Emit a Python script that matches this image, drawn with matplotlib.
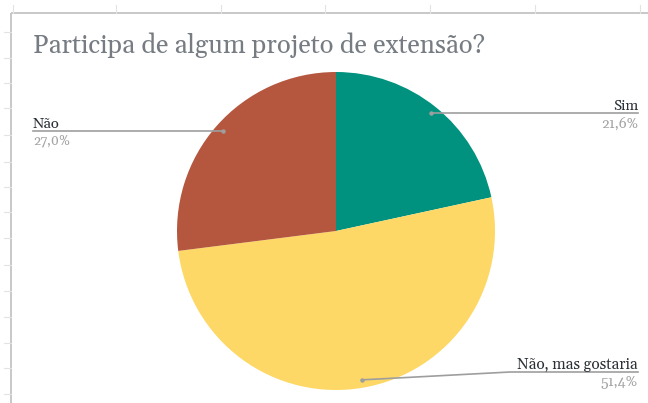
import numpy as np
from matplotlib import pyplot as plt
from matplotlib import font_manager as fm

# Data
categories = ["Sim", "Não, mas gostaria", "Não"]
values = [21.6, 51.4, 27.0]
colors = ["#00927f", "#fdd866", "#b5573f"]
title = "Participa de algum projeto de extensão?"

# Georgia-like serif: Gelasio if present, else Liberation Serif
installed = {f.name for f in fm.fontManager.ttflist}
serif = next((f for f in ["Gelasio", "Liberation Serif", "DejaVu Serif"]
              if f in installed), "DejaVu Serif")

W, H = 648, 403
fig = plt.figure(figsize=(W / 100, H / 100), dpi=100)
ax = fig.add_axes([0, 0, 1, 1])

def Y(y):
    # pixel row (from top) -> data y
    return H - y

# Pie, in pixel units
cx, cy, R = 336, 231, 159
ax.pie(values, colors=colors, startangle=90, counterclock=False,
       center=(cx, Y(cy)), radius=R, wedgeprops=dict(linewidth=0))
ax.set_xlim(0, W)
ax.set_ylim(0, H)
ax.set_aspect("auto")
ax.axis("off")

# Spreadsheet border and gridline stubs
border = "#c4c4c4"
ax.plot([11, 11], [Y(13), Y(H)], color=border, lw=1.3, solid_capstyle="butt")
ax.plot([11, W], [Y(13), Y(13)], color=border, lw=1.3, solid_capstyle="butt")
for yy in [32, 58, 83, 108, 135, 162, 187, 212, 238, 265, 291, 317, 343, 368, 394]:
    ax.plot([4, 11], [Y(yy), Y(yy)], color="#e3e3e3", lw=0.8)
for xx in [13, 116, 221, 325, 430, 535, 640]:
    ax.plot([xx, xx], [Y(5), Y(13)], color="#e3e3e3", lw=0.8)

renderer = fig.canvas.get_renderer()

def fit(t, width):
    # rescale a text so its rendered width matches the reference
    w = t.get_window_extent(renderer).width
    t.set_fontsize(t.get_fontsize() * width / w)

t = ax.text(33, Y(53), title, fontsize=18, color="#767c82", family=serif,
            ha="left", va="baseline")
fit(t, 452)

# Slice labels with leader lines
line_c = "#9e9e9e"
lab_c = "#2a3036"
pct_c = "#a3a3a3"
fracs = np.array(values) / sum(values)
ends = 90 - 360 * np.cumsum(fracs)
mids = ends + 180 * fracs
# (label side, line y in pixels, bend x)
layout = {"Sim": ("right", None, None),
          "Não, mas gostaria": ("right", 372, 510),
          "Não": ("left", None, None)}
label_w = {"Sim": 25, "Não, mas gostaria": 121, "Não": 27}

for cat, v, m in zip(categories, values, mids):
    px = cx + 0.95 * R * np.cos(np.radians(m))
    py = cy - 0.95 * R * np.sin(np.radians(m))
    side, ly, bx = layout[cat]
    if ly is None:
        ly = py
    ax.plot([px], [Y(py)], "o", color=line_c, ms=3.2, mec="none", zorder=4)
    if side == "right":
        xs = [px, bx, 638] if bx else [px, 638]
        ys = [py, ly, ly] if bx else [ly, ly]
        tx, ha = 638, "right"
    else:
        xs, ys = [33, px], [ly, py]
        tx, ha = 33, "left"
    ax.plot(xs, [Y(y) for y in ys], color=line_c, lw=1.2, zorder=3)
    lt = ax.text(tx, Y(ly - 3.5), cat, fontsize=10, color=lab_c, family=serif,
                 ha=ha, va="baseline")
    fit(lt, label_w[cat])
    pct = f"{v:.1f}".replace(".", ",") + "%"
    pt = ax.text(tx, Y(ly + 14), pct, fontsize=8.5, color=pct_c, family=serif,
                 ha=ha, va="baseline")
    fit(pt, 37)

fig.savefig("out.png", dpi=100)
